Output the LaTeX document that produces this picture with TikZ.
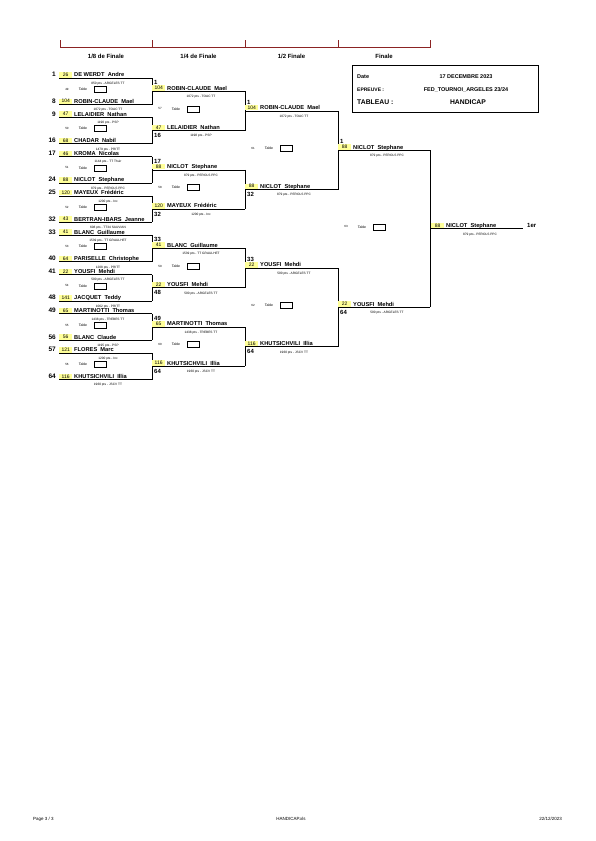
\documentclass[tikz,border=0pt]{standalone}
\usepackage{fontspec}
\setmainfont{Liberation Sans}
\definecolor{hl}{HTML}{FFFF99}
\definecolor{hdr}{HTML}{8B2323}
\tikzset{
 pname/.style={font=\fontsize{5.7}{6}\selectfont\bfseries, inner sep=0pt, anchor=base west},
 hcap/.style={fill=hl, inner sep=0pt, minimum width=13pt, minimum height=5.5pt, font=\fontsize{5}{5}\selectfont, anchor=south west},
 sub/.style={font=\fontsize{3.2}{3.5}\selectfont, inner sep=0pt, anchor=base},
 seedl/.style={font=\fontsize{6.5}{7}\selectfont\bfseries, inner sep=0pt, anchor=base east},
 seedr/.style={font=\fontsize{6}{7}\selectfont\bfseries, inner sep=0pt, anchor=base west},
 bline/.style={line width=0.7pt},
 tnum/.style={font=\fontsize{3}{3}\selectfont, inner sep=0pt},
 tlab/.style={font=\fontsize{3.5}{4}\selectfont, inner sep=0pt},
 tbox/.style={draw, line width=0.5pt, minimum width=12pt, minimum height=6pt, inner sep=0pt},
 hdrlab/.style={font=\fontsize{6}{7}\selectfont\bfseries, inner sep=0pt},
 info/.style={font=\fontsize{5.5}{6}\selectfont\bfseries, inner sep=0pt},
 foot/.style={font=\fontsize{4.5}{5}\selectfont, inner sep=0pt},
}
% id, x0, x1, y, handicap, name, sub
\newcommand\entry[7]{%
  \coordinate (#1a) at (#2,#4);
  \coordinate (#1b) at (#3,#4);
  \node[hcap] (#1h) at (#2,#4-0.3) {#5};
  \node[pname] (#1n) at (#2+15,#4-1.2) {#6};
  \node[sub] (#1s) at (#2+49,#4+6.3) {#7};
  \draw[bline] (#1a) -- (#1b);
}
% id, x0, y, number
\newcommand\tablerow[4]{%
  \node[tnum] (#1n) at (#2+8,#3) {#4};
  \node[tlab] (#1l) at (#2+24,#3) {Table};
  \node[tbox] (#1b) at (#2+41,#3) {};
}
\begin{document}
\begin{tikzpicture}[x=1pt,y=-1pt]
\useasboundingbox (0,0) rectangle (595,841);

% header
\coordinate (hA) at (60,47.5);
\coordinate (hE) at (430,47.5);
\draw[hdr, line width=0.8pt] (hA) -- (hE);
\foreach \x in {60,152,245,338,430} \draw[hdr, line width=0.8pt] (\x,40) -- (\x,47.5);
\node[hdrlab] (hl1) at (106,56) {1/8 de Finale};
\node[hdrlab] (hl2) at (198.5,56) {1/4 de Finale};
\node[hdrlab] (hl3) at (291.5,56) {1/2 Finale};
\node[hdrlab] (hl4) at (384,56) {Finale};

% info box
\node[draw, line width=0.8pt, minimum width=186pt, minimum height=47pt, anchor=north west, inner sep=0pt] (info) at (352,65) {};
\node[info, anchor=base west] (i1) at (357,78) {Date};
\node[info, anchor=base] (i1v) at (466,78) {17 DECEMBRE 2023};
\node[info, anchor=base west, font=\fontsize{5}{6}\selectfont\bfseries] (i2) at (357,91) {EPREUVE :};
\node[info, anchor=base] (i2v) at (466,91) {FED\_TOURNOI\_ARGELES 23/24};
\node[info, anchor=base west, font=\fontsize{6.8}{7}\selectfont\bfseries] (i3) at (357,104) {TABLEAU :};
\node[info, anchor=base, font=\fontsize{6.8}{7}\selectfont\bfseries] (i3v) at (468,104) {HANDICAP};

% ---- 1/8 de finale
\entry{p1}{59}{152}{78}{26}{DE WERDT~~Andre}{850 pts - ARGELES TT}
\entry{p8}{59}{152}{104.5}{104}{ROBIN-CLAUDE~~Mael}{1072 pts - TOAC TT}
\entry{p9}{59}{152}{117.3}{47}{LELAIDIER~~Nathan}{1190 pts - PSP}
\entry{p16}{59}{152}{143.8}{68}{CHADAR~~Nabil}{1479 pts - PRITT}
\entry{p17}{59}{152}{156.6}{46}{KROMA~~Nicolas}{1144 pts - TT Thuir}
\entry{p24}{59}{152}{183.1}{88}{NICLOT~~Stephane}{879 pts - PEROLS PPC}
\entry{p25}{59}{152}{195.9}{120}{MAYEUX~~Frédéric}{1200 pts - Inc}
\entry{p32}{59}{152}{222.4}{43}{BERTRAN-IBARS~~Jeanne}{608 pts - TT34 SAUVIAN}
\entry{p33}{59}{152}{235.2}{41}{BLANC~~Guillaume}{1539 pts - TT GRAULHET}
\entry{p40}{59}{152}{261.7}{64}{PARISELLE~~Christophe}{1208 pts - PRITT}
\entry{p41}{59}{152}{274.5}{22}{YOUSFI~~Mehdi}{500 pts - ARGELES TT}
\entry{p48}{59}{152}{301.0}{141}{JACQUET~~Teddy}{1062 pts - PRITT}
\entry{p49}{59}{152}{313.8}{65}{MARTINOTTI~~Thomas}{1438 pts - TREBES TT}
\entry{p56}{59}{152}{340.3}{56}{BLANC~~Claude}{1195 pts - PSP}
\entry{p57}{59}{152}{353.1}{121}{FLORES~~Marc}{1200 pts - Inc}
\entry{p64}{59}{152}{379.6}{116}{KHUTSICHVILI~~Illia}{1960 pts - JSCV TT}
\foreach \s/\y in {1/78,8/104.5,9/117.3,16/143.8,17/156.6,24/183.1,25/195.9,32/222.4,33/235.2,40/261.7,41/274.5,48/301.0,49/313.8,56/340.3,57/353.1,64/379.6}
  \node[seedl] (p\s k) at (56,\y-1.2) {\s};
\draw[bline] (p1b) -- (p8b);
\draw[bline] (p9b) -- (p16b);
\draw[bline] (p17b) -- (p24b);
\draw[bline] (p25b) -- (p32b);
\draw[bline] (p33b) -- (p40b);
\draw[bline] (p41b) -- (p48b);
\draw[bline] (p49b) -- (p56b);
\draw[bline] (p57b) -- (p64b);
\tablerow{t49}{59}{89.25}{49}
\tablerow{t50}{59}{128.55}{50}
\tablerow{t51}{59}{167.85}{51}
\tablerow{t52}{59}{207.15}{52}
\tablerow{t53}{59}{246.45}{53}
\tablerow{t54}{59}{285.75}{54}
\tablerow{t55}{59}{325.05}{55}
\tablerow{t56}{59}{364.35}{56}

% ---- 1/4 de finale
\entry{q1}{152}{245}{91.25}{104}{ROBIN-CLAUDE~~Mael}{1072 pts - TOAC TT}
\entry{q16}{152}{245}{130.55}{47}{LELAIDIER~~Nathan}{1198 pts - PSP}
\entry{q17}{152}{245}{169.85}{88}{NICLOT~~Stephane}{879 pts - PEROLS PPC}
\entry{q32}{152}{245}{209.15}{120}{MAYEUX~~Frédéric}{1200 pts - Inc}
\entry{q33}{152}{245}{248.45}{41}{BLANC~~Guillaume}{1539 pts - TT GRAULHET}
\entry{q48}{152}{245}{287.75}{22}{YOUSFI~~Mehdi}{500 pts - ARGELES TT}
\entry{q49}{152}{245}{327.05}{65}{MARTINOTTI~~Thomas}{1438 pts - TREBES TT}
\entry{q64}{152}{245}{366.35}{116}{KHUTSICHVILI~~Illia}{1960 pts - JSCV TT}
\foreach \s/\y in {1/91.25,17/169.85,33/248.45,49/327.05}
  \node[seedr] (q\s k) at (154,\y-6.5) {\s};
\foreach \s/\y in {16/130.55,32/209.15,48/287.75,64/366.35}
  \node[seedr] (q\s k) at (154,\y+7) {\s};
\draw[bline] (q1b) -- (q16b);
\draw[bline] (q17b) -- (q32b);
\draw[bline] (q33b) -- (q48b);
\draw[bline] (q49b) -- (q64b);
\tablerow{t57}{152}{108.9}{57}
\tablerow{t58}{152}{187.5}{58}
\tablerow{t59}{152}{266.1}{59}
\tablerow{t60}{152}{344.7}{60}

% ---- 1/2 finale
\entry{s1}{245}{338}{110.9}{104}{ROBIN-CLAUDE~~Mael}{1072 pts - TOAC TT}
\entry{s32}{245}{338}{189.5}{88}{NICLOT~~Stephane}{879 pts - PEROLS PPC}
\entry{s33}{245}{338}{268.1}{22}{YOUSFI~~Mehdi}{500 pts - ARGELES TT}
\entry{s64}{245}{338}{346.7}{116}{KHUTSICHVILI~~Illia}{1960 pts - JSCV TT}
\node[seedr] (s1k) at (247,110.9-6.5) {1};
\node[seedr] (s32k) at (247,189.5+7) {32};
\node[seedr] (s33k) at (247,268.1-6.5) {33};
\node[seedr] (s64k) at (247,346.7+7) {64};
\draw[bline] (s1b) -- (s32b);
\draw[bline] (s33b) -- (s64b);
\tablerow{t61}{245}{148.2}{61}
\tablerow{t62}{245}{305.4}{62}

% ---- finale
\entry{f1}{338}{430}{150.2}{88}{NICLOT~~Stephane}{879 pts - PEROLS PPC}
\entry{f64}{338}{430}{307.4}{22}{YOUSFI~~Mehdi}{500 pts - ARGELES TT}
\node[seedr] (f1k) at (340,150.2-6.5) {1};
\node[seedr] (f64k) at (340,307.4+7) {64};
\draw[bline] (f1b) -- (f64b);
\tablerow{t63}{338}{226.8}{63}

% ---- winner
\entry{w}{431}{523}{228.8}{88}{NICLOT~~Stephane}{879 pts - PEROLS PPC}
\node[seedr] (wk) at (527,228.8-1.2) {1er};

% footer
\node[foot, anchor=base west] (ft1) at (33,820) {Page 3 / 3};
\node[foot, anchor=base] (ft2) at (291,820) {HANDICAP.xls};
\node[foot, anchor=base east] (ft3) at (562,820) {22/12/2023};
\end{tikzpicture}
\end{document}
